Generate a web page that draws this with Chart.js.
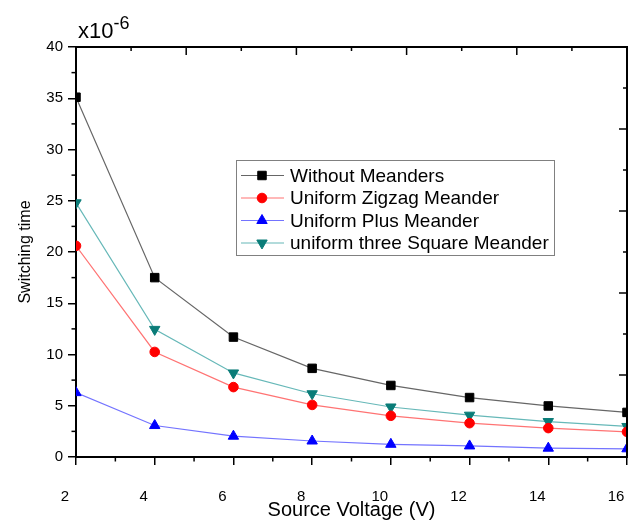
<!DOCTYPE html>
<html>
<head>
<meta charset="utf-8">
<title>Switching time vs Source Voltage</title>
<script src="https://cdn.jsdelivr.net/npm/chart.js@4.4.0/dist/chart.umd.min.js"></script>
<style>
  html, body { margin: 0; padding: 0; background: #fff; }
  canvas { display: block; }
</style>
</head>
<body>
<canvas id="chart" width="634" height="520"></canvas>
<script>
// Source voltage (V)
const voltages = [2, 4, 6, 8, 10, 12, 14, 16];

// Switching time, in units of 1e-6
const withoutMeanders    = [35.1, 17.5, 11.7, 8.65, 6.98, 5.8, 4.98, 4.35];
const zigzagMeander      = [20.6, 10.25, 6.82, 5.08, 4.02, 3.3, 2.82, 2.45];
const plusMeander        = [6.28, 3.07, 2.03, 1.56, 1.24, 1.08, 0.86, 0.8];
const threeSquareMeander = [24.8, 12.45, 8.2, 6.17, 4.88, 4.08, 3.46, 2.98];

const seriesNames = [
  'Without Meanders',
  'Uniform Zigzag Meander',
  'Uniform Plus Meander',
  'uniform three Square Meander'
];

// Axis ticks
const xTickValues = [2, 4, 6, 8, 10, 12, 14, 16];
const xMinorTicks = [3, 5, 7, 9, 11, 13, 15];
const yTickValues = [0, 5, 10, 15, 20, 25, 30, 35, 40];
const yMinorTicks = [2.5, 7.5, 12.5, 17.5, 22.5, 27.5, 32.5, 37.5];
// Opposite (top / right) frame ticks
const frameTicks = [0.5, 1, 1.5, 2, 2.5, 3, 3.5, 4, 4.5];

const FONT = "'Liberation Sans', Arial, sans-serif";

const styles = [
  { line: '#666666', marker: '#000000', pointStyle: 'rect',     radius: 6,   rotation: 0 },
  { line: '#ff7373', marker: '#ff0000', pointStyle: 'circle',   radius: 4.8, rotation: 0 },
  { line: '#7373ff', marker: '#0000ff', pointStyle: 'triangle', radius: 6,   rotation: 0 },
  { line: '#66b8b8', marker: '#0a7c78', pointStyle: 'triangle', radius: 6,   rotation: 180 }
];

const seriesData = [withoutMeanders, zigzagMeander, plusMeander, threeSquareMeander];

const datasets = seriesData.map((vals, i) => ({
  label: seriesNames[i],
  data: voltages.map((v, k) => ({ x: v, y: vals[k] })),
  borderColor: styles[i].line,
  borderWidth: 1.2,
  backgroundColor: styles[i].marker,
  pointBackgroundColor: styles[i].marker,
  pointBorderColor: styles[i].marker,
  pointBorderWidth: 1,
  pointStyle: styles[i].pointStyle,
  pointRotation: styles[i].rotation,
  pointRadius: styles[i].radius,
  pointHoverRadius: styles[i].radius,
  tension: 0,
  clip: 0,
  xAxisID: 'x',
  yAxisID: 'y'
}));

function marker(ctx, st, x, y) {
  ctx.fillStyle = st.marker;
  ctx.strokeStyle = st.marker;
  ctx.lineWidth = 1;
  if (Chart.helpers && Chart.helpers.drawPoint) {
    Chart.helpers.drawPoint(ctx, {
      pointStyle: st.pointStyle, rotation: st.rotation, radius: st.radius, borderWidth: 1
    }, x, y);
  }
}

// Frame scales that occupy no room: they only place the top/right ticks
const frameScale = (position) => ({
  type: 'linear',
  position,
  min: 0, max: 5,
  display: true,
  ticks: { display: false },
  grid: { display: false },
  border: { display: false },
  title: { display: false },
  afterFit: s => {
    if (position === 'top') s.height = 0; else s.width = 0;
    s.paddingLeft = s.paddingRight = s.paddingTop = s.paddingBottom = 0;
  }
});

// Closed frame, minor ticks, inward ticks on the top/right edges
const framePlugin = {
  id: 'frame',
  afterDraw(chart) {
    const { ctx, chartArea: a, scales } = chart;
    ctx.save();
    ctx.strokeStyle = '#000';
    ctx.lineWidth = 2;
    ctx.beginPath();
    ctx.moveTo(a.left - 1, a.top);
    ctx.lineTo(a.right, a.top);
    ctx.lineTo(a.right, a.bottom + 1);
    ctx.stroke();

    ctx.lineWidth = 1.5;
    const seg = (x1, y1, x2, y2) => {
      ctx.beginPath(); ctx.moveTo(x1, y1); ctx.lineTo(x2, y2); ctx.stroke();
    };
    yMinorTicks.forEach(v => {
      const y = scales.y.getPixelForValue(v);
      seg(a.left - 4.5, y, a.left, y);
    });
    xMinorTicks.forEach(v => {
      const x = scales.x.getPixelForValue(v);
      seg(x, a.bottom, x, a.bottom + 4.5);
    });
    frameTicks.forEach(v => {
      const len = Number.isInteger(v) ? 8 : 4;
      const x = scales.x2.getPixelForValue(v);
      seg(x, a.top, x, a.top + len);
      const y = scales.y2.getPixelForValue(v);
      seg(a.right, y, a.right - len, y);
    });

    // axis multiplier
    ctx.fillStyle = '#000';
    ctx.textBaseline = 'alphabetic';
    ctx.textAlign = 'left';
    ctx.font = '22px ' + FONT;
    ctx.fillText('x10', a.left + 2, 38);
    const w = ctx.measureText('x10').width;
    ctx.font = '18px ' + FONT;
    ctx.fillText('-6', a.left + 2 + w, 29);
    ctx.restore();
  }
};

// Boxed legend inside the plot
const legendPlugin = {
  id: 'boxLegend',
  afterDraw(chart) {
    const { ctx } = chart;
    ctx.save();
    ctx.strokeStyle = '#808080';
    ctx.lineWidth = 1;
    ctx.strokeRect(236.5, 160.5, 318, 95);
    ctx.font = '19px ' + FONT;
    ctx.textBaseline = 'middle';
    ctx.textAlign = 'left';
    chart.data.datasets.forEach((ds, i) => {
      const y = 175.5 + i * 22.5;
      ctx.strokeStyle = styles[i].line;
      ctx.lineWidth = 1.2;
      ctx.beginPath(); ctx.moveTo(241, y); ctx.lineTo(284, y); ctx.stroke();
      marker(ctx, styles[i], 262, y);
      ctx.fillStyle = '#000';
      ctx.fillText(ds.label, 290, y + 1);
    });
    ctx.restore();
  }
};

new Chart(document.getElementById('chart'), {
  type: 'line',
  data: { datasets },
  options: {
    responsive: false,
    animation: false,
    events: [],
    layout: { autoPadding: false, padding: { left: 16, top: 47, right: 7, bottom: 0 } },
    plugins: { legend: { display: false }, tooltip: { enabled: false } },
    scales: {
      x: {
        type: 'linear',
        position: 'bottom',
        min: 2, max: 16,
        afterBuildTicks: s => { s.ticks = xTickValues.map(v => ({ value: v })); },
        afterFit: s => { s.height = 63; s.paddingLeft = 0; s.paddingRight = 0; },
        ticks: {
          color: '#000',
          font: { family: FONT, size: 15 },
          padding: 23,
          labelOffset: -11,
          maxRotation: 0
        },
        grid: { drawOnChartArea: false, drawTicks: true, tickLength: 8, color: '#000', lineWidth: 1.5 },
        border: { display: true, color: '#000', width: 2 },
        title: {
          display: true,
          text: 'Source Voltage (V)',
          color: '#000',
          font: { family: FONT, size: 20, lineHeight: 1 },
          padding: 0
        }
      },
      y: {
        type: 'linear',
        position: 'left',
        min: 0, max: 40,
        afterBuildTicks: s => { s.ticks = yTickValues.map(v => ({ value: v })); },
        afterFit: s => { s.width = 60; s.paddingTop = 0; s.paddingBottom = 0; },
        ticks: {
          color: '#000',
          font: { family: FONT, size: 15 },
          padding: 5
        },
        grid: { drawOnChartArea: false, drawTicks: true, tickLength: 8, color: '#000', lineWidth: 1.5 },
        border: { display: true, color: '#000', width: 2 },
        title: {
          display: true,
          text: 'Switching time',
          color: '#000',
          font: { family: FONT, size: 16 },
          padding: 0
        }
      },
      x2: frameScale('top'),
      y2: frameScale('right')
    }
  },
  plugins: [framePlugin, legendPlugin]
});
</script>
</body>
</html>
